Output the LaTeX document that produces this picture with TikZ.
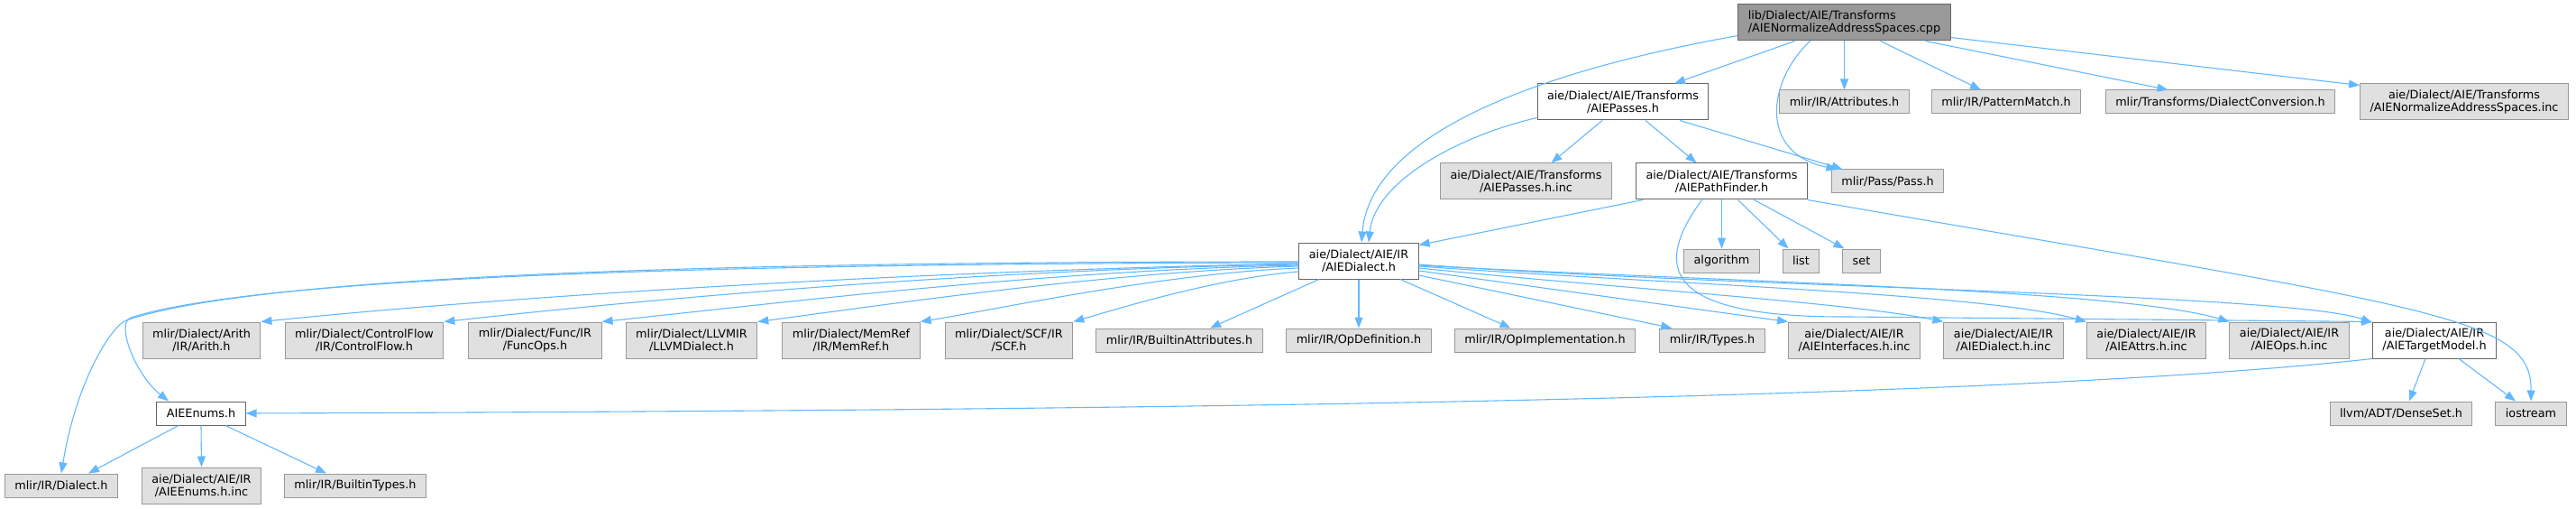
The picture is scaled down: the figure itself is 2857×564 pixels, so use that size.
\documentclass[tikz,border=0pt]{standalone}
\usepackage{fontspec}
\setmainfont{DejaVu Sans}
\usetikzlibrary{arrows.meta}
\definecolor{edgeBlue}{RGB}{99,184,255}
\definecolor{boxFill}{RGB}{224,224,224}
\definecolor{boxLine}{RGB}{153,153,153}
\definecolor{curFill}{RGB}{153,153,153}
\definecolor{darkLine}{RGB}{102,102,102}

\begin{document}
\begin{tikzpicture}[x=1pt, y=-1pt,
    every node/.style={font=\fontsize{12.8}{14}\selectfont, inner xsep=11pt, inner ysep=3pt,
      minimum height=26pt, align=center, line width=1pt},
    hdr/.style={draw=boxLine, fill=boxFill},
    src/.style={draw=darkLine, fill=white},
    cur/.style={draw=darkLine, fill=curFill},
    two/.style={minimum height=40pt},
    edge/.style={edgeBlue, line width=1.1pt, -{Triangle[length=12pt, width=9pt]}}]
    \useasboundingbox (0,0) rectangle (2857,564);

    \node[cur, two, align=left] (main) at (2045.5,25) {lib/Dialect/AIE/Transforms\\/AIENormalizeAddressSpaces.cpp};

    \node[src, two] (passes) at (1800,113) {aie/Dialect/AIE/Transforms\\/AIEPasses.h};
    \node[hdr] (attr) at (2045.5,113) {mlir/IR/Attributes.h};
    \node[hdr] (pmatch) at (2225,113) {mlir/IR/PatternMatch.h};
    \node[hdr] (dconv) at (2462.5,113) {mlir/Transforms/DialectConversion.h};
    \node[hdr, two] (nasinc) at (2733,113) {aie/Dialect/AIE/Transforms\\/AIENormalizeAddressSpaces.inc};

    \node[hdr, two] (passinc) at (1692.5,201) {aie/Dialect/AIE/Transforms\\/AIEPasses.h.inc};
    \node[src, two] (pathf) at (1909.5,201) {aie/Dialect/AIE/Transforms\\/AIEPathFinder.h};
    \node[hdr] (pass) at (2093.5,201) {mlir/Pass/Pass.h};

    \node[src, two] (dial) at (1507,289) {aie/Dialect/AIE/IR\\/AIEDialect.h};
    \node[hdr] (algo) at (1909.5,289) {algorithm};
    \node[hdr] (stdlist) at (1997.5,289) {list};
    \node[hdr] (stdset) at (2064.5,289) {set};

    \node[hdr, two] (arith) at (223.5,377) {mlir/Dialect/Arith\\/IR/Arith.h};
    \node[hdr, two] (cflow) at (404,377) {mlir/Dialect/ControlFlow\\/IR/ControlFlow.h};
    \node[hdr, two] (func) at (593.5,377) {mlir/Dialect/Func/IR\\/FuncOps.h};
    \node[hdr, two] (llvm) at (767,377) {mlir/Dialect/LLVMIR\\/LLVMDialect.h};
    \node[hdr, two] (memref) at (944,377) {mlir/Dialect/MemRef\\/IR/MemRef.h};
    \node[hdr, two] (scf) at (1119,377) {mlir/Dialect/SCF/IR\\/SCF.h};
    \node[hdr] (battr) at (1308,377) {mlir/IR/BuiltinAttributes.h};
    \node[hdr] (opdef) at (1507,377) {mlir/IR/OpDefinition.h};
    \node[hdr] (opimpl) at (1713.5,377) {mlir/IR/OpImplementation.h};
    \node[hdr] (types) at (1899,377) {mlir/IR/Types.h};
    \node[hdr, two] (ifinc) at (2056.5,377) {aie/Dialect/AIE/IR\\/AIEInterfaces.h.inc};
    \node[hdr, two] (dialinc) at (2222,377) {aie/Dialect/AIE/IR\\/AIEDialect.h.inc};
    \node[hdr, two] (attrsinc) at (2380.5,377) {aie/Dialect/AIE/IR\\/AIEAttrs.h.inc};
    \node[hdr, two] (opsinc) at (2539,377) {aie/Dialect/AIE/IR\\/AIEOps.h.inc};
    \node[src, two] (target) at (2700,377) {aie/Dialect/AIE/IR\\/AIETargetModel.h};

    \node[src] (enums) at (223,458) {AIEEnums.h};
    \node[hdr] (dense) at (2663,458) {llvm/ADT/DenseSet.h};
    \node[hdr] (iostr) at (2807,458) {iostream};

    \node[hdr] (irdial) at (68,538) {mlir/IR/Dialect.h};
    \node[hdr, two] (enumsinc) at (223.5,538) {aie/Dialect/AIE/IR\\/AIEEnums.h.inc};
    \node[hdr] (btypes) at (394,538) {mlir/IR/BuiltinTypes.h};

    % from the source file
    \draw[edge] (main.187) .. controls (1700,80) and (1520,150) .. ([xshift=3pt]dial.north);
    \draw[edge] ([xshift=-55pt]main.south) -- ([xshift=57pt]passes.north);
    \draw[edge] ([xshift=-38pt]main.south) .. controls (1960,90) and (1950,170) .. ([xshift=-56pt]pass.north);
    \draw[edge] (main.south) -- (attr.north);
    \draw[edge] ([xshift=40pt]main.south) -- ([xshift=-28pt]pmatch.north);
    \draw[edge] ([xshift=90pt]main.south) -- ([xshift=-58pt]dconv.north);
    \draw[edge] ([yshift=4pt]main.south east) -- ([yshift=-2pt]nasinc.north west);

    \draw[edge] ([yshift=3pt]passes.south west) .. controls (1620,150) and (1525,200) .. ([xshift=11pt]dial.north);
    \draw[edge] ([xshift=-23pt]passes.south) -- ([xshift=28pt]passinc.north);
    \draw[edge] ([xshift=25pt]passes.south) -- ([xshift=-28pt]pathf.north);
    \draw[edge] ([xshift=63pt]passes.south) -- ([xshift=-50pt]pass.north);

    \draw[edge] ([xshift=8pt]pathf.south west) -- ([yshift=-3pt]dial.north east);
    \draw[edge] (pathf.south) -- (algo.north);
    \draw[edge] ([xshift=18pt]pathf.south) -- ([xshift=-14pt]stdlist.north);
    \draw[edge] ([xshift=36pt]pathf.south) -- ([xshift=-19pt]stdset.north);
    \draw[edge] (pathf.south east) .. controls (2700,342) and (2808,350) .. (iostr.north);
    \draw[edge] ([xshift=-22pt]pathf.south) .. controls (1830,300) and (1850,352) .. (2050,351) -- (target.north west);

    % from the dialect header
    \draw[edge] ([yshift=-1pt]dial.west) .. controls (900,290) and (300,300) .. (140,355)
        .. controls (125,360) and (85,420) .. (irdial.north);
    \draw[edge] ([yshift=-2pt]dial.west) .. controls (900,292) and (300,302) .. (145,352)
        .. controls (128,358) and (150,415) .. ([xshift=-36pt]enums.north);
    \draw[edge] ([yshift=-3pt]dial.west) .. controls (1040,300) and (600,325) .. (arith.north east);
    \draw[edge] ([yshift=-4pt]dial.west) .. controls (1110,298) and (750,328) .. (cflow.north east);
    \draw[edge] ([yshift=-5pt]dial.west) .. controls (1170,299) and (880,334) .. (func.north east);
    \draw[edge] ([yshift=-6pt]dial.west) .. controls (1230,301) and (980,338) .. (llvm.north east);
    \draw[edge] ([yshift=-8pt]dial.west) .. controls (1290,303) and (1110,342) .. (memref.north east);
    \draw[edge] ([yshift=-12pt]dial.west) .. controls (1350,308) and (1240,342) .. (scf.north east);
    \draw[edge] ([xshift=-44pt]dial.south) -- ([xshift=34pt]battr.north);
    \draw[edge] (dial.south) -- (opdef.north);
    \draw[edge] ([xshift=46pt]dial.south) -- ([xshift=-38pt]opimpl.north);
    \draw[edge] ([yshift=-16pt]dial.east) -- ([xshift=14pt]types.north west);
    \draw[edge] ([yshift=-11pt]dial.east) -- (ifinc.north west);
    \draw[edge] ([yshift=-8pt]dial.east) .. controls (1800,320) and (2050,335) .. (dialinc.north west);
    \draw[edge] ([yshift=-6pt]dial.east) .. controls (1850,315) and (2200,325) .. (attrsinc.north west);
    \draw[edge] ([yshift=-5pt]dial.east) .. controls (1900,312) and (2350,320) .. (opsinc.north west);
    \draw[edge] ([yshift=-4pt]dial.east) .. controls (1900,318) and (2540,325) .. ([yshift=-1pt]target.north west);

    \draw[edge] (target.south west) .. controls (2200,445) and (1200,455) .. (enums.east);
    \draw[edge] ([xshift=-10pt]target.south) -- ([xshift=9pt]dense.north);
    \draw[edge] ([xshift=27pt]target.south) -- ([xshift=-17pt]iostr.north);

    \draw[edge] ([xshift=-25pt]enums.south) -- ([xshift=30pt]irdial.north);
    \draw[edge] (enums.south) -- (enumsinc.north);
    \draw[edge] ([xshift=27pt]enums.south) -- ([xshift=-32pt]btypes.north);
\end{tikzpicture}
\end{document}
